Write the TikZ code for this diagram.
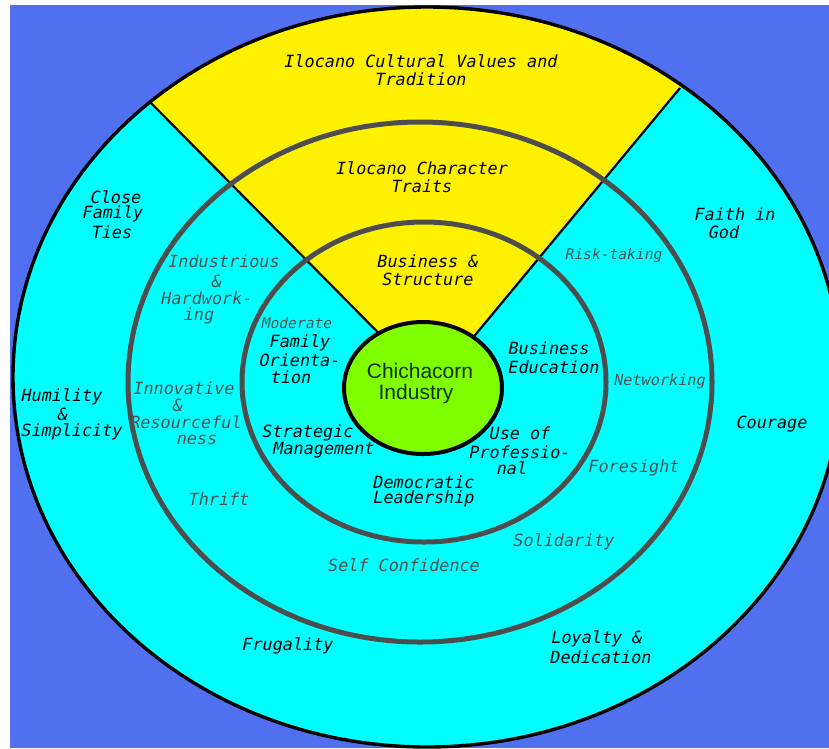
\documentclass[tikz,border=0pt]{standalone}
\usepackage{fontspec}
\setmonofont{DejaVu Sans Mono}
\newfontfamily\labelsans{Liberation Sans}
\definecolor{bgblue}{HTML}{5070F0}
\definecolor{ringcyan}{HTML}{00FFFF}
\definecolor{sectoryellow}{HTML}{FFF200}
\definecolor{corelime}{HTML}{80FF00}
\definecolor{ringgray}{HTML}{4D4D4D}
\definecolor{textgray}{HTML}{505050}
\definecolor{coretext}{HTML}{0A300A}
\tikzset{
  ringline/.style={draw=ringgray, line width=5pt},
  blackline/.style={draw=black, line width=2.2pt},
  lbl/.style={font=\ttfamily\itshape\fontsize{16.8}{18}\selectfont, inner sep=0pt, text=black},
  glbl/.style={lbl, text=textgray},
  slbl/.style={font=\ttfamily\itshape\fontsize{14.6}{16}\selectfont, inner sep=0pt, text=textgray},
  corelbl/.style={font=\labelsans\fontsize{21}{23}\selectfont, inner sep=0pt, text=coretext}
}
\begin{document}
\begin{tikzpicture}[x=1pt,y=-1pt]
\useasboundingbox (0,0) rectangle (829,748);
\fill[white] (0,0) rectangle (829,748);
\fill[bgblue] (10,5) rectangle (829,748);
% outer disc
\coordinate (oc) at (427,377);
\fill[ringcyan] (oc) ellipse [x radius=414pt, y radius=370pt];
% yellow sector
\coordinate (apex) at (432,387);
\coordinate (lout) at (149,101);
\coordinate (rout) at (680,88);
\begin{scope}
  \clip (oc) ellipse [x radius=414pt, y radius=370pt];
  \fill[sectoryellow] (apex) -- (34.5,-14.5) -- (782.5,-35.5) -- cycle;
\end{scope}
\draw[blackline] (apex) -- (lout);
\draw[blackline] (apex) -- (rout);
\draw[black, line width=3.4pt] (oc) ellipse [x radius=414pt, y radius=370pt];
% gray rings
\coordinate (mc) at (420,382);
\draw[ringline] (mc) ellipse [x radius=292pt, y radius=260pt];
\coordinate (ic) at (424,382);
\draw[ringline] (ic) ellipse [x radius=182pt, y radius=160pt];
% core
\coordinate (cc) at (423,388);
\filldraw[fill=corelime, draw=black, line width=4pt] (cc) ellipse [x radius=79pt, y radius=66pt];
\node[corelbl] (core1) at (420,371) {Chichacorn};
\node[corelbl] (core2) at (416,394) {Industry};

% outer ring labels
\node[lbl] (a1) at (421,61) {Ilocano Cultural Values and};
\node[lbl] (a2) at (421,79) {Tradition};
\node[lbl] (b1) at (422,168) {Ilocano Character};
\node[lbl] (b2) at (422,186) {Traits};
\node[lbl] (c1) at (428,261) {Business \&};
\node[lbl] (c2) at (428,279) {Structure};
\node[lbl] (d1) at (116,197) {Close};
\node[lbl] (d2) at (113,214) {Family};
\node[lbl] (d3) at (112,232) {Ties};
\node[lbl] (e1) at (735,214) {Faith in};
\node[lbl] (e2) at (724,232) {God};
\node[lbl] (f1) at (62,397) {Humility};
\node[lbl] (f2) at (63,414) {\&};
\node[lbl] (f3) at (72,432) {Simplicity};
\node[lbl] (g1) at (772,424) {Courage};
\node[lbl] (h1) at (288,646) {Frugality};
\node[lbl] (i1) at (597,639) {Loyalty \&};
\node[lbl] (i2) at (601,657) {Dedication};

% middle ring labels
\node[glbl] (j1) at (224,261) {Industrious};
\node[glbl] (j2) at (217,281) {\&};
\node[glbl] (j3) at (207,298) {Hardwork-};
\node[glbl] (j4) at (199,316) {ing};
\node[glbl] (k1) at (184,388) {Innovative};
\node[glbl] (k2) at (178,405) {\&};
\node[glbl] (k3) at (186,422) {Resourceful};
\node[glbl] (k4) at (197,440) {ness};
\node[glbl] (l1) at (219,499) {Thrift};
\node[glbl] (m1) at (404,565) {Self Confidence};
\node[glbl] (n1) at (564,542) {Solidarity};
\node[glbl] (o1) at (634,468) {Foresight};
\node[slbl, font=\ttfamily\itshape\fontsize{15.2}{16}\selectfont] (p1) at (660,381) {Networking};
\node[slbl] (q1) at (614,256) {Risk-taking};
\node[slbl] (r1) at (297,323) {Moderate};

% inner ring labels
\node[lbl] (s1) at (300,343) {Family};
\node[lbl] (s2) at (300,360) {Orienta-};
\node[lbl] (s3) at (291,377) {tion};
\node[lbl] (t1) at (549,348) {Business};
\node[lbl] (t2) at (554,367) {Education};
\node[lbl] (u1) at (308,433) {Strategic};
\node[lbl] (u2) at (324,450) {Management};
\node[lbl] (v1) at (520,433) {Use of};
\node[lbl] (v2) at (520,452) {Professio-};
\node[lbl] (v3) at (512,468) {nal};
\node[lbl] (w1) at (424,482) {Democratic};
\node[lbl] (w2) at (424,499) {Leadership};
\end{tikzpicture}
\end{document}
